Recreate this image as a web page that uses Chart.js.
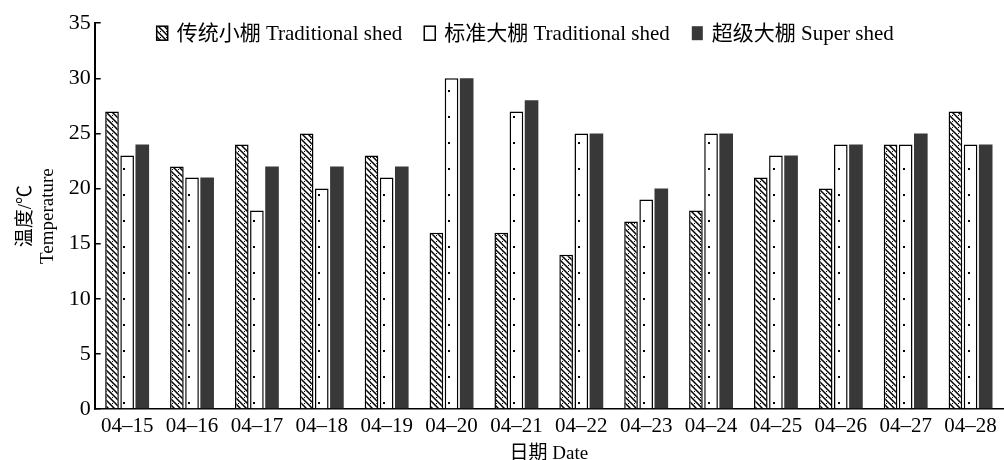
<!DOCTYPE html>
<html>
<head>
<meta charset="utf-8">
<script src="https://cdn.jsdelivr.net/npm/chart.js@4.4.0/dist/chart.umd.min.js"></script>
<style>
    body { margin: 0; background: #fff; }
    canvas { display: block; }
</style>
</head>
<body>
<canvas id="tempChart" width="1004" height="460"></canvas>
<script>
// Dados
const dates = ['04–15', '04–16', '04–17', '04–18', '04–19', '04–20', '04–21',
               '04–22', '04–23', '04–24', '04–25', '04–26', '04–27', '04–28'];
const smallShed    = [27, 22, 24, 25, 23, 16, 16, 14, 17, 18, 21, 20, 24, 27];
const standardShed = [23, 21, 18, 20, 21, 30, 27, 25, 19, 25, 23, 24, 24, 24];
const superShed    = [24, 21, 22, 22, 22, 30, 28, 25, 20, 25, 23, 24, 25, 24];
const seriesNames = ['传统小棚 Traditional shed', '标准大棚 Traditional shed', '超级大棚 Super shed'];
const yMin = 0, yMax = 35, yStep = 5;

const FONT = "'Liberation Serif', 'Noto Sans CJK SC', serif";

// Padrão hachurado (diagonal + pontos)
function hatchPattern() {
    const c = document.createElement('canvas');
    c.width = 6; c.height = 6;
    const g = c.getContext('2d');
    g.fillStyle = '#fff';
    g.fillRect(0, 0, 6, 6);
    g.strokeStyle = '#000';
    g.lineWidth = 1.5;
    g.beginPath();
    g.moveTo(-1, -1); g.lineTo(7, 7);
    g.moveTo(-4, 2); g.lineTo(1, 7);
    g.moveTo(5, -1); g.lineTo(7, 1);
    g.stroke();
    g.fillStyle = '#000';
    g.fillRect(4, 1, 1, 1);
    return g.createPattern(c, 'repeat');
}

// Padrão branco com pontos
function dotPattern() {
    const c = document.createElement('canvas');
    c.width = 13; c.height = 26;
    const g = c.getContext('2d');
    g.fillStyle = '#fff';
    g.fillRect(0, 0, 13, 26);
    g.fillStyle = '#000';
    g.fillRect(6, 12, 2, 2);
    return g.createPattern(c, 'repeat');
}

// Legenda desenhada dentro da área do gráfico
const insideLegend = {
    id: 'insideLegend',
    afterDatasetsDraw(chart) {
        const { ctx, chartArea } = chart;
        ctx.save();
        ctx.font = `21px ${FONT}`;
        ctx.textBaseline = 'middle';
        ctx.textAlign = 'left';
        let x = chartArea.left + 62;
        const y = chartArea.top + 10;
        chart.data.datasets.forEach(ds => {
            ctx.fillStyle = ds.backgroundColor;
            ctx.fillRect(x, y - 7, 11, 14);
            if (ds.borderWidth) {
                ctx.strokeStyle = '#000';
                ctx.lineWidth = 1.5;
                ctx.strokeRect(x, y - 7, 11, 14);
            }
            ctx.fillStyle = '#000';
            ctx.fillText(ds.label, x + 20, y + 1);
            x += 20 + ctx.measureText(ds.label).width + 22;
        });
        ctx.restore();
    }
};

Chart.defaults.color = '#000';
Chart.defaults.font.family = FONT;

const ctx = document.getElementById('tempChart').getContext('2d');
new Chart(ctx, {
    type: 'bar',
    data: {
        labels: dates,
        datasets: [
            { label: seriesNames[0], data: smallShed, backgroundColor: hatchPattern(),
              borderColor: '#000', borderWidth: 1.5 },
            { label: seriesNames[1], data: standardShed, backgroundColor: dotPattern(),
              borderColor: '#000', borderWidth: 1.5 },
            { label: seriesNames[2], data: superShed, backgroundColor: '#383838',
              borderColor: '#383838', borderWidth: 0 }
        ]
    },
    options: {
        responsive: false,
        animation: false,
        categoryPercentage: 0.7,
        barPercentage: 0.9,
        layout: { padding: { top: -2, right: 1, left: 15, bottom: -5 } },
        plugins: {
            legend: { display: false },
            tooltip: { enabled: false }
        },
        scales: {
            x: {
                grid: { display: false, drawTicks: false },
                border: { display: true, color: '#000', width: 1.5 },
                ticks: { font: { size: 21, family: FONT }, color: '#000', padding: 5, maxRotation: 0 },
                title: { display: true, text: '日期 Date', font: { size: 19, family: FONT },
                         color: '#000', padding: { top: -2, bottom: 0 } }
            },
            y: {
                min: yMin, max: yMax,
                grid: { display: true, drawOnChartArea: false, drawTicks: true, tickLength: -6,
                        color: '#000', lineWidth: 1.5 },
                border: { display: true, color: '#000', width: 2 },
                ticks: { stepSize: yStep, font: { size: 22, family: FONT }, color: '#000', padding: 10 },
                title: { display: true, text: ['温度/℃', 'Temperature'],
                         font: { size: 19, family: FONT, lineHeight: 1.15 }, color: '#000',
                         padding: { top: 0, bottom: 0 } }
            }
        }
    },
    plugins: [insideLegend]
});
</script>
</body>
</html>
